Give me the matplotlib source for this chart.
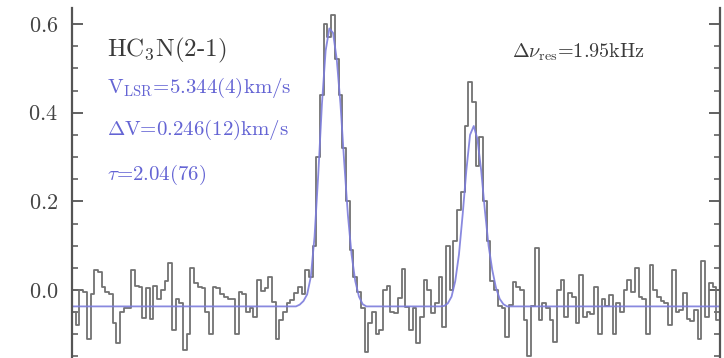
import numpy as np
import matplotlib
matplotlib.use("Agg")
import matplotlib.pyplot as plt
from matplotlib.ticker import MultipleLocator, FuncFormatter

plt.rcParams['font.family'] = ['cmr10', 'DejaVu Serif']
plt.rcParams['mathtext.fontset'] = 'cm'
plt.rcParams['axes.unicode_minus'] = False
plt.rcParams['axes.formatter.use_mathtext'] = True

# spectrum (channel values)
v_start = 3.123   # km/s, first channel
dv_chan = 0.0321  # km/s per channel
spec = [
    -0.05, -0.08, 0.0, -0.005, -0.11, -0.01, 0.045, 0.04, 0.007, -0.005,
    -0.008, -0.075, -0.12, -0.05, -0.04, -0.04, 0.045, 0.01, 0.007, -0.064,
    0.005, -0.065, 0.01, -0.02, 0.0, 0.02, 0.06, -0.09, -0.02, -0.03,
    -0.135, -0.1, 0.05, 0.016, 0.007, 0.005, -0.05, -0.1, 0.007, 0.005,
    -0.01, -0.015, -0.02, -0.02, -0.1, -0.004, -0.01, -0.05, -0.04, -0.06,
    0.023, -0.003, 0.005, 0.03, -0.026, -0.11, -0.068, -0.05, -0.03, -0.023,
    -0.007, 0.007, -0.01, 0.045, 0.03, 0.1, 0.30, 0.44, 0.60, 0.57,
    0.62, 0.52, 0.44, 0.32, 0.2, 0.09, 0.03, -0.005, -0.04, -0.14,
    -0.075, -0.05, -0.1, -0.09, 0.0, 0.01, -0.05, -0.053, -0.019, 0.048,
    -0.038, -0.09, -0.04, -0.12, -0.06, 0.023, 0.0, -0.053, -0.03, 0.03,
    -0.083, 0.1, 0.0, 0.11, 0.18, 0.22, 0.37, 0.47, 0.425, 0.28,
    0.345, 0.2, 0.11, 0.02, 0.0, -0.035, -0.04, -0.106, -0.034, 0.019,
    0.007, 0.0, -0.068, -0.15, -0.035, 0.094, -0.068, -0.03, -0.04, -0.068,
    -0.117, 0.0, 0.023, -0.06, -0.007, -0.015, -0.075, 0.034, -0.06, -0.05,
    -0.055, 0.007, -0.1, -0.02, -0.035, -0.012, -0.1, -0.03, -0.05, 0.0,
    0.023, -0.005, 0.05, -0.015, -0.02, -0.1, 0.057, 0.0, -0.015, -0.025,
    -0.03, -0.08, 0.045, -0.05, -0.045, -0.007, -0.065, -0.07, -0.045, -0.11,
    0.065, -0.06, 0.015, 0.007, -0.068,
]

# fitted profile: flat baseline plus the two components
fit_base = -0.037
fit1_start = 61
fit1 = [-0.033, -0.025, -0.01, 0.03, 0.12, 0.26, 0.42, 0.54, 0.59, 0.58,
        0.52, 0.42, 0.29, 0.17, 0.08, 0.02, -0.015, -0.032, -0.037]
fit2_start = 100
fit2 = [-0.036, -0.03, -0.015, 0.02, 0.08, 0.17, 0.27, 0.35, 0.37,
        0.34, 0.27, 0.18, 0.1, 0.045, 0.005, -0.02, -0.032, -0.037]

line_name = r'HC$_3$N(2-1)'
fit_labels = [r'V$_{\rm LSR}$=5.344(4)km/s',
              r'$\Delta$V=0.246(12)km/s',
              r'$\tau$=2.04(76)']
fit_label_y = [0.456, 0.361, 0.259]
res_label = r'$\Delta\nu_{\rm res}$=1.95kHz'

vel = v_start + dv_chan * np.arange(len(spec))
model = np.full(len(spec), fit_base)
model[fit1_start:fit1_start + len(fit1)] = fit1
model[fit2_start:fit2_start + len(fit2)] = fit2

W, H = 724, 358
fig = plt.figure(figsize=(W / 100, H / 100), dpi=100)
y_top, y_zero, px_per_unit = 8, 290, 443.3
ylo, yhi = -0.18, (y_zero - y_top) / px_per_unit
bot_px = y_zero - ylo * px_per_unit
ax = fig.add_axes([72 / W, 1 - bot_px / H, (720 - 72) / W, (bot_px - y_top) / H])

ax.plot(vel, spec, drawstyle='steps-mid', color='#727272', lw=1.3)
ax.plot(vel, model, color='#7c7cdc', lw=1.3, alpha=0.9)

ax.set_xlim(vel[0] - dv_chan / 2, vel[-1] + dv_chan / 2)
ax.set_ylim(ylo, yhi)

for s in ['left', 'right']:
    ax.spines[s].set_color('#555555')
    ax.spines[s].set_linewidth(1.6)
ax.spines['top'].set_visible(False)
ax.spines['bottom'].set_visible(False)

ax.yaxis.set_major_locator(MultipleLocator(0.2))
ax.yaxis.set_minor_locator(MultipleLocator(0.05))
ax.yaxis.set_major_formatter(FuncFormatter(lambda v, p: r'$%.1f$' % (abs(v) if abs(v) < 1e-9 else v)))
ax.tick_params(axis='y', which='both', direction='in', left=True, right=True,
               colors='#555555', labelcolor='#444444', labelsize=16, pad=10)
ax.tick_params(axis='y', which='major', length=8, width=1.3)
ax.tick_params(axis='y', which='minor', length=4.5, width=1.1)
ax.tick_params(axis='x', which='both', bottom=False, top=False, labelbottom=False)

tr = ax.get_yaxis_transform()
ax.text(0.054, 0.541, line_name, transform=tr, fontsize=18,
        color='#3a3a3a', va='center', ha='left')
for s, yv in zip(fit_labels, fit_label_y):
    ax.text(0.054, yv, s, transform=tr, fontsize=15,
            color='#6464d4', va='center', ha='left')
ax.text(0.679, 0.537, res_label, transform=tr, fontsize=14.5,
        color='#3a3a3a', va='center', ha='left')

fig.savefig('out.png', dpi=100)
